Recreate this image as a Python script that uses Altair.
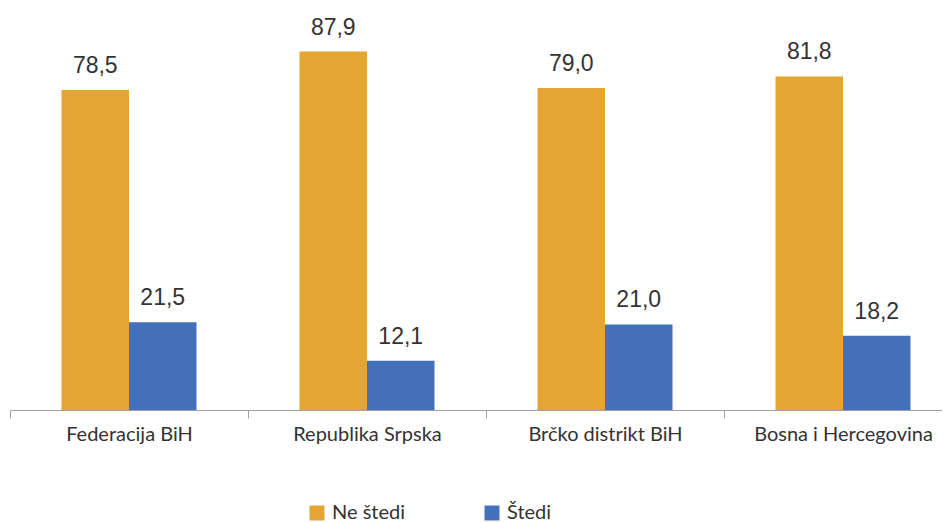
import altair as alt
import pandas as pd

regions = ["Federacija BiH", "Republika Srpska", "Brčko distrikt BiH", "Bosna i Hercegovina"]
series = ["Ne štedi", "Štedi"]
ne_stedi = [78.5, 87.9, 79.0, 81.8]
stedi = [21.5, 12.1, 21.0, 18.2]
colors = ["#E5A533", "#4470B9"]

rows = []
for i, r in enumerate(regions):
    rows.append({"region": r, "serija": series[0], "value": ne_stedi[i]})
    rows.append({"region": r, "serija": series[1], "value": stedi[i]})
df = pd.DataFrame(rows)

x = alt.X("region:N", sort=regions, title=None,
          scale=alt.Scale(range=[0, 952], paddingInner=0, paddingOuter=0),
          axis=alt.Axis(labelAngle=0, labelFont="Lato", labelFontSize=20, labelColor="#333333",
                        tickBand="extent", tickSize=8, tickColor="#a0a0a0", domainColor="#a0a0a0",
                        labelPadding=6, labelLimit=300))
xo = alt.XOffset("serija:N", sort=series, scale=alt.Scale(paddingInner=0, paddingOuter=0.763))
y = alt.Y("value:Q", scale=alt.Scale(domain=[0, 98.6]), axis=None)

base = alt.Chart(df).encode(x=x, xOffset=xo, y=y)

bars = base.mark_bar().encode(
    color=alt.Color("serija:N", sort=series, scale=alt.Scale(domain=series, range=colors),
                    legend=alt.Legend(title=None, orient="none", legendX=297, legendY=495,
                                      direction="horizontal", symbolType="square", symbolSize=225,
                                      symbolStrokeWidth=0, labelFont="Lato", labelFontSize=20,
                                      labelColor="#333333", labelOffset=5, columnPadding=77))
)

labels = base.transform_calculate(
    lbl="replace(format(datum.value, '.1f'), '.', ',')"
).mark_text(font="Liberation Sans", fontSize=23, color="#333333", baseline="alphabetic", dy=-17).encode(
    text="lbl:N"
)

chart = (bars + labels).properties(
    width=932, height=402,
    padding={"left": 2, "top": 0, "right": 0, "bottom": 112},
    autosize=alt.AutoSizeParams(type="none"),
).configure_view(stroke=None)

chart.save("out.html", embed_options={"renderer": "svg", "actions": False})
